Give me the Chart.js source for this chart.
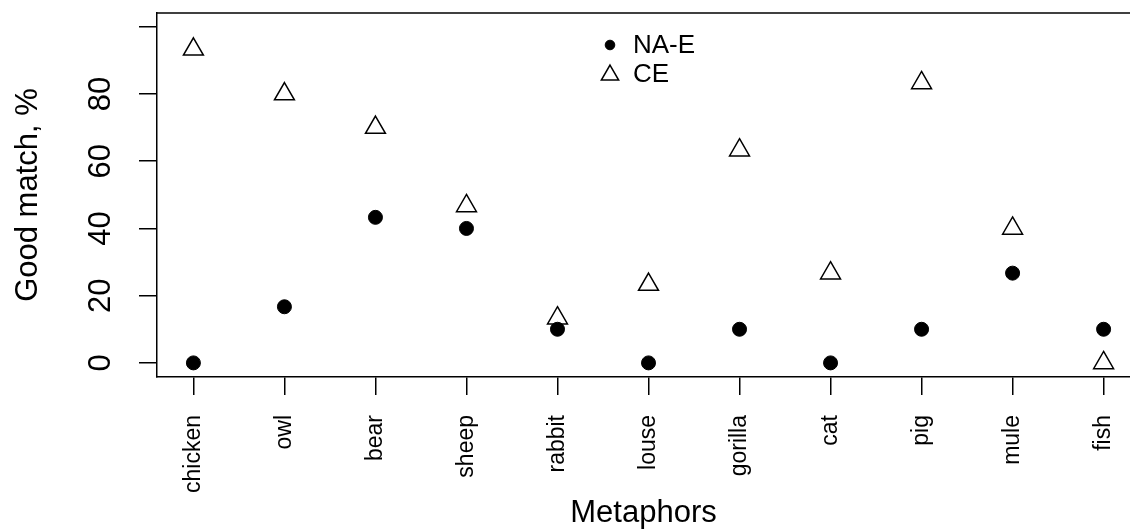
<!DOCTYPE html>
<html>
<head>
<meta charset="utf-8">
<script src="https://cdn.jsdelivr.net/npm/chart.js@4/dist/chart.umd.min.js"></script>
<style>
  body { margin: 0; background: #fff; }
  canvas { display: block; }
</style>
</head>
<body>
<canvas id="chart" width="1130" height="529"></canvas>
<script>
const categories = ["chicken", "owl", "bear", "sheep", "rabbit", "louse", "gorilla", "cat", "pig", "mule", "fish"];
const naE = [0, 16.7, 43.3, 40, 10, 0, 10, 0, 10, 26.7, 10];
const ce = [93.3, 80, 70, 46.7, 13.3, 23.3, 63.3, 26.7, 83.3, 40, 0];
const yTicks = [0, 20, 40, 60, 80, 100];
const seriesNames = ["NA-E", "CE"];

const FONT = '"Liberation Sans", Arial, Helvetica, sans-serif';

function toPoints(values) {
    return values.map((v, i) => ({ x: i + 1, y: v }));
}

// top edge of the R-style box; the right edge falls outside the picture
const boxPlugin = {
    id: "rBox",
    afterDraw(chart) {
        const { ctx, chartArea } = chart;
        ctx.save();
        ctx.strokeStyle = "#000";
        ctx.lineWidth = 1.5;
        ctx.beginPath();
        ctx.moveTo(chartArea.left, chartArea.top);
        ctx.lineTo(chart.width, chartArea.top);
        ctx.stroke();
        ctx.restore();
    }
};

const legendPlugin = {
    id: "rLegend",
    afterDraw(chart) {
        const ctx = chart.ctx;
        const x = 610, rows = [45, 74];
        ctx.save();
        ctx.strokeStyle = "#000";
        ctx.fillStyle = "#000";
        ctx.lineWidth = 1;
        Chart.helpers.drawPoint(ctx, { pointStyle: "circle", radius: 4.8, borderWidth: 1 }, x, rows[0]);
        ctx.fillStyle = "rgba(0,0,0,0)";
        ctx.lineWidth = 1.5;
        Chart.helpers.drawPoint(ctx, { pointStyle: "triangle", radius: 10, borderWidth: 1.5 }, x, rows[1] + 1);
        ctx.fillStyle = "#000";
        ctx.font = "26px " + FONT;
        ctx.textBaseline = "middle";
        ctx.textAlign = "left";
        seriesNames.forEach((name, i) => ctx.fillText(name, 633, rows[i] + 1));
        ctx.restore();
    }
};

new Chart(document.getElementById("chart"), {
    type: "scatter",
    data: {
        datasets: [{
            label: seriesNames[0],
            data: toPoints(naE),
            pointStyle: "circle",
            pointRadius: 7,
            backgroundColor: "#000",
            borderColor: "#000",
            borderWidth: 1,
            clip: false
        }, {
            label: seriesNames[1],
            data: toPoints(ce),
            pointStyle: "triangle",
            pointRadius: 11.5,
            backgroundColor: "rgba(0,0,0,0)",
            borderColor: "#000",
            borderWidth: 1.5,
            clip: false
        }]
    },
    options: {
        responsive: false,
        animation: false,
        events: [],
        layout: { autoPadding: false, padding: { top: 13, right: 0, left: 0, bottom: 0 } },
        plugins: {
            legend: { display: false },
            tooltip: { enabled: false }
        },
        scales: {
            x: {
                type: "linear",
                min: 0.6,
                max: 11.29,
                afterBuildTicks(scale) {
                    scale.ticks = categories.map((c, i) => ({ value: i + 1 }));
                },
                afterFit(scale) {
                    scale.height = 152;
                    scale.paddingLeft = 0;
                    scale.paddingRight = 0;
                },
                grid: { display: true, drawOnChartArea: false, drawTicks: true, tickLength: 18, color: "#000", lineWidth: 1.5 },
                border: { display: true, color: "#000", width: 1.5 },
                ticks: {
                    autoSkip: false,
                    minRotation: 90,
                    maxRotation: 90,
                    padding: 20,
                    color: "#000",
                    font: { family: FONT, size: 23 },
                    callback: (v) => categories[v - 1]
                },
                title: {
                    display: true,
                    text: "Metaphors",
                    color: "#000",
                    font: { family: FONT, size: 31 },
                    padding: { top: 0, bottom: -3 }
                }
            },
            y: {
                type: "linear",
                min: -4.2,
                max: 104.1,
                afterBuildTicks(scale) {
                    scale.ticks = yTicks.map(v => ({ value: v }));
                },
                afterFit(scale) {
                    scale.width = 157;
                    scale.paddingTop = 0;
                    scale.paddingBottom = 0;
                },
                grid: { display: true, drawOnChartArea: false, drawTicks: true, tickLength: 18, color: "#000", lineWidth: 1.5 },
                border: { display: true, color: "#000", width: 1.5 },
                ticks: {
                    minRotation: 90,
                    maxRotation: 90,
                    crossAlign: "center",
                    padding: 20,
                    color: "#000",
                    font: { family: FONT, size: 31 },
                    callback: (v) => v === 100 ? "" : v
                },
                title: {
                    display: true,
                    text: "Good match, %",
                    color: "#000",
                    font: { family: FONT, size: 31 },
                    padding: { top: 10, bottom: 0 }
                }
            }
        }
    },
    plugins: [boxPlugin, legendPlugin]
});
</script>
</body>
</html>
